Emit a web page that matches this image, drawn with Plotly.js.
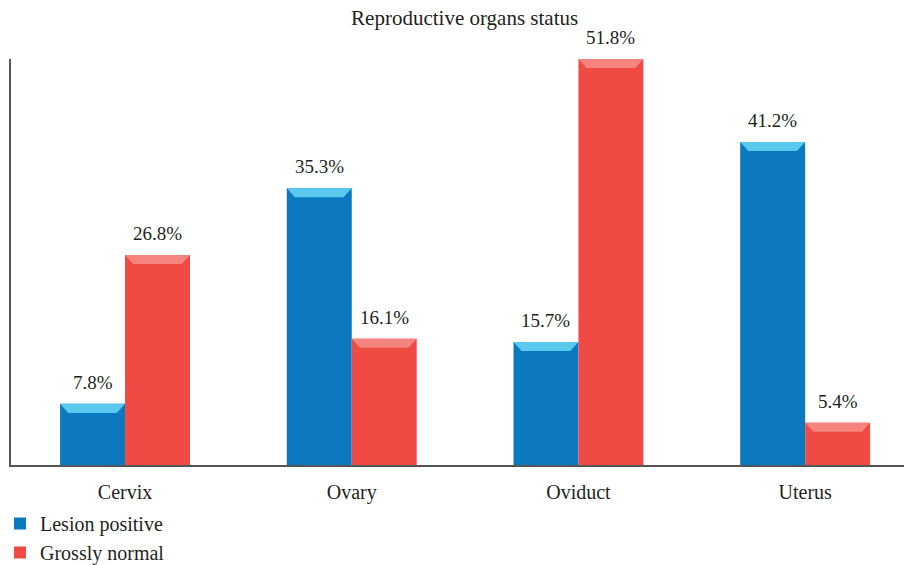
<!DOCTYPE html>
<html>
<head>
<meta charset="utf-8">
<script src="https://cdn.plot.ly/plotly-3.0.1.min.js"></script>
<style>html,body{margin:0;padding:0;background:#fff;}#chart{width:904px;height:565px;}</style>
</head>
<body>
<div id="chart"></div>
<script>
var categories = ["Cervix", "Ovary", "Oviduct", "Uterus"];
var seriesNames = ["Lesion positive", "Grossly normal"];
var lesionPositive = [7.8, 35.3, 15.7, 41.2];
var grosslyNormal = [26.8, 16.1, 51.8, 5.4];
var title = "Reproductive organs status";

var FONT = "Liberation Serif, Times New Roman, serif";
var colors = ["#0B78BF", "#F04A45"];
var capColors = ["#5BC8EE", "#F4847D"];
var series = [lesionPositive, grosslyNormal];
var xIdx = categories.map(function (c, i) { return i; });

var bargap = 0.427;
var barW = (1 - bargap) / 2;
var capH = 1.15;   // in y units (~9px)
var inset = 0.036; // in x units (~8px)

var traces = series.map(function (vals, s) {
  return {
    type: "bar",
    name: seriesNames[s],
    x: xIdx,
    y: vals,
    marker: { color: colors[s], line: { width: 0 } },
    hoverinfo: "none"
  };
});

var shapes = [];
var annotations = [];
series.forEach(function (vals, s) {
  var off = s === 0 ? -barW : 0;
  vals.forEach(function (v, j) {
    var x0 = j + off, x1 = x0 + barW;
    shapes.push({
      type: "path", xref: "x", yref: "y", layer: "above",
      path: "M" + x0 + "," + v + " L" + x1 + "," + v + " L" + (x1 - inset) + "," + (v - capH) +
            " L" + (x0 + inset) + "," + (v - capH) + " Z",
      fillcolor: capColors[s], line: { width: 0 }
    });
    annotations.push({
      x: x0 + barW / 2, y: v, xref: "x", yref: "y",
      text: v.toFixed(1) + "%", showarrow: false,
      yanchor: "bottom", yshift: 9,
      font: { family: FONT, size: 19, color: "#231F20" }
    });
  });
});

var layout = {
  width: 904, height: 565,
  margin: { l: 11, r: 0, t: 59, b: 100 },
  paper_bgcolor: "#fff", plot_bgcolor: "#fff",
  title: {
    text: title, x: 0.508, xref: "paper", y: 1 - 18 / 565, yref: "container",
    xanchor: "center", yanchor: "middle",
    font: { family: FONT, size: 21, color: "#231F20" }
  },
  barmode: "group",
  bargap: bargap,
  bargroupgap: 0,
  showlegend: true,
  legend: {
    x: -0.021, xref: "paper", y: 1 - 504 / 565, yref: "container",
    xanchor: "left", yanchor: "top",
    orientation: "v", itemwidth: 30, tracegroupgap: 0,
    font: { family: FONT, size: 20, color: "#231F20" },
    bgcolor: "rgba(0,0,0,0)"
  },
  xaxis: {
    range: [-0.503, 3.436],
    tickmode: "array", tickvals: xIdx, ticktext: categories,
    showline: true, linecolor: "#555555", linewidth: 2,
    showgrid: false, zeroline: false,
    ticks: "outside", ticklen: 8, tickcolor: "rgba(0,0,0,0)",
    tickfont: { family: FONT, size: 20, color: "#231F20" },
    fixedrange: true
  },
  yaxis: {
    range: [0, 51.8],
    showline: true, linecolor: "#555555", linewidth: 2,
    showgrid: false, zeroline: false, showticklabels: false, ticks: "",
    fixedrange: true
  },
  shapes: shapes,
  annotations: annotations
};

Plotly.newPlot("chart", traces, layout, { displayModeBar: false, staticPlot: true });
</script>
</body>
</html>
